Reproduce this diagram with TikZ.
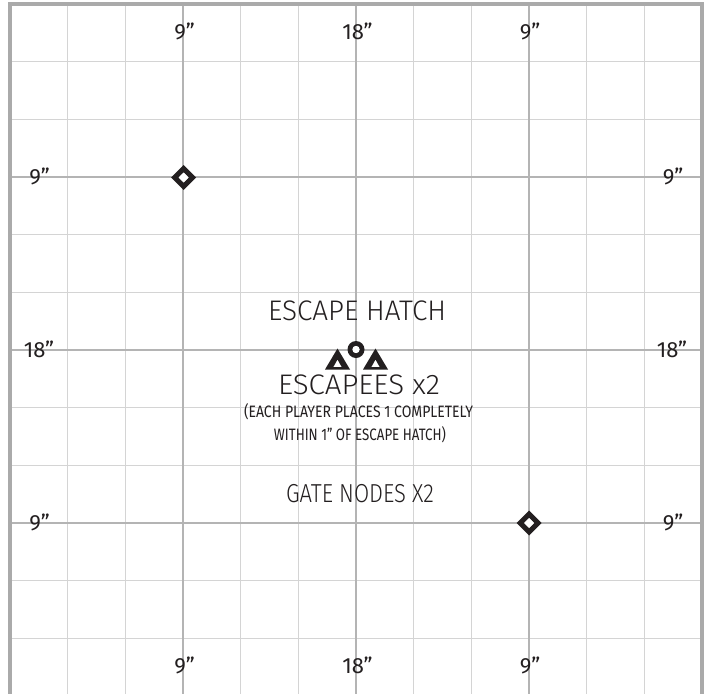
\documentclass[tikz,border=0pt]{standalone}
\usepackage{fontspec}
\usepackage{graphicx}
\IfFontExistsTF{Fira Sans Light}{\setmainfont{Fira Sans Light}}{\setmainfont{Fira Sans}}
\newfontfamily\myregfont{Fira Sans}
\usetikzlibrary{calc}
\definecolor{ink}{HTML}{231F20}
\definecolor{majorgray}{HTML}{B4B4B4}
\definecolor{minorgray}{HTML}{D4D4D4}
\definecolor{framegray}{HTML}{AAAAAA}
\tikzset{
  minorline/.style={draw=minorgray, line width=1.3pt},
  majorline/.style={draw=majorgray, line width=2.6pt},
  frameline/.style={draw=framegray, line width=4.5pt},
  lbl/.style={text=ink, inner sep=0pt, anchor=base, font=\myregfont\fontsize{22}{24}\selectfont},
  bigtext/.style={text=ink, inner sep=0pt, anchor=base, font=\fontsize{28.3}{30}\selectfont},
  gatetext/.style={text=ink, inner sep=0pt, anchor=base, font=\fontsize{26}{28}\selectfont},
  smalltext/.style={text=ink, inner sep=0pt, anchor=base, font=\myregfont\fontsize{16.5}{18}\selectfont},
  markfill/.style={fill=ink, even odd rule},
}
\begin{document}
\begin{tikzpicture}[x=1pt,y=-1pt]
\useasboundingbox (0,0) rectangle (714,693);
\clip (0,0) rectangle (714,693);
\fill[white] (0,0) rectangle (714,693);
% grid
\foreach \i in {1,2,4,5,7,8,10,11} {
  \draw[minorline] ({10+57.667*\i},4) -- ({10+57.667*\i},696);
  \draw[minorline] (10,{4+57.667*\i}) -- (702,{4+57.667*\i});
}
\foreach \i in {3,6,9} {
  \draw[majorline] ({10+57.667*\i},4) -- ({10+57.667*\i},696);
  \draw[majorline] (10,{4+57.667*\i}) -- (702,{4+57.667*\i});
}
\draw[frameline] (10,4) rectangle (702,696);
% measurement labels
\node[lbl] (t1) at (184.5,40) {9”};
\node[lbl] (t2) at (357.5,40) {18”};
\node[lbl] (t3) at (530,40) {9”};
\node[lbl] (b1) at (184.5,673) {9”};
\node[lbl] (b2) at (357.5,673) {18”};
\node[lbl] (b3) at (530,673) {9”};
\node[lbl] (l1) at (39.5,184.5) {9”};
\node[lbl] (l2) at (39,357) {18”};
\node[lbl] (l3) at (39.5,530.5) {9”};
\node[lbl] (r1) at (673,184.5) {9”};
\node[lbl] (r2) at (672,357) {18”};
\node[lbl] (r3) at (673,530.5) {9”};
% texts
\node[bigtext] (hatchtxt) at (357,320) {\resizebox{178pt}{\height}{ESCAPE HATCH}};
\node[bigtext] (escapeestxt) at (359,394.5) {\resizebox{162pt}{\height}{ESCAPEES x2}};
\node[smalltext] (note1) at (358.5,417.5) {\resizebox{229pt}{\height}{(EACH PLAYER PLACES 1 COMPLETELY}};
\node[smalltext] (note2) at (360,440.5) {\resizebox{172pt}{\height}{WITHIN 1” OF ESCAPE HATCH)}};
\node[gatetext] (gatetxt) at (360,502.5) {\resizebox{148pt}{\height}{GATE NODES X2}};
% markers
\coordinate (gate1) at (183.5,177.5);
\coordinate (gate2) at (529,523);
\foreach \c in {gate1,gate2} {
  \fill[markfill] ($(\c)+(0,-12.5)$) -- ($(\c)+(12.5,0)$) -- ($(\c)+(0,12.5)$) -- ($(\c)+(-12.5,0)$) -- cycle
    ($(\c)+(0,-5)$) -- ($(\c)+(5,0)$) -- ($(\c)+(0,5)$) -- ($(\c)+(-5,0)$) -- cycle;
  \fill[white] ($(\c)+(0,-5)$) -- ($(\c)+(5,0)$) -- ($(\c)+(0,5)$) -- ($(\c)+(-5,0)$) -- cycle;
}
\coordinate (hatch) at (356,349.5);
\fill[markfill] (hatch) circle[radius=8.5] (hatch) circle[radius=3.6];
\fill[white] (hatch) circle[radius=3.6];
\coordinate (esc1) at (337.5,359);
\coordinate (esc2) at (375.5,359);
\foreach \c in {esc1,esc2} {
  \fill[markfill] ($(\c)+(0,-10.5)$) -- ($(\c)+(12.5,10.5)$) -- ($(\c)+(-12.5,10.5)$) -- cycle
    ($(\c)+(0,0.5)$) -- ($(\c)+(4.2,8)$) -- ($(\c)+(-4.2,8)$) -- cycle;
}
\end{tikzpicture}
\end{document}
